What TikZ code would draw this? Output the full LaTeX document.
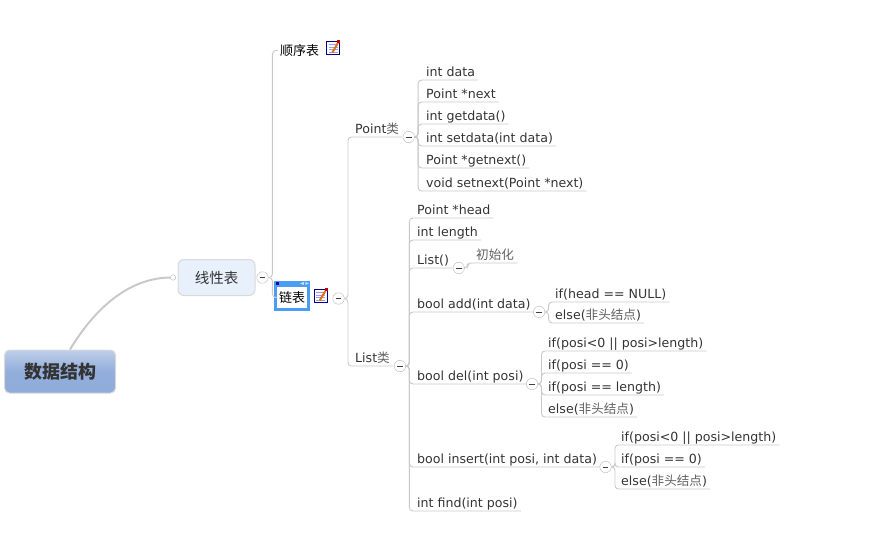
\documentclass[tikz,border=0pt]{standalone}
\usepackage{fontspec}
\setmainfont{DejaVu Sans}
\newfontfamily\cjk{Noto Sans CJK SC}
\usetikzlibrary{positioning,calc,shapes.geometric}
\definecolor{linkgray}{HTML}{C9C9C9}
\definecolor{textgray}{HTML}{333333}
\definecolor{selblue}{HTML}{4A9CF5}
\definecolor{roottop}{HTML}{BECFE8}
\definecolor{rootmid}{HTML}{92AEDB}
\definecolor{rootbot}{HTML}{8FACDA}
\definecolor{mainfill}{HTML}{E8F0FB}
\newcommand{\zh}[1]{{\cjk\color{black!62}#1}}
\begin{document}
\begin{tikzpicture}[
  x=1pt, y=-1pt,
  font=\fontsize{12.6}{14}\selectfont,
  text=textgray,
  link/.style={draw=linkgray, line width=0.9pt, rounded corners=3.5pt},
  leaf/.style={anchor=south west, inner xsep=3pt, inner ysep=0.5pt, text height=10pt, text depth=2.5pt},
  under/.style 2 args={below=#2 of #1.south west, anchor=south west},
  btn/.style={circle, draw=black!28, fill=white, minimum size=11.5pt, inner sep=0pt,
    path picture={\draw[black!75, line width=1pt]
      ($(path picture bounding box.center)+(-2.8pt,0)$) -- ($(path picture bounding box.center)+(2.8pt,0)$);}},
  noteicon/.pic={
    \draw[fill=white, draw=blue!55!black, line width=0.9pt] (-6.5,-6.5) rectangle (6.5,6.5);
    \foreach \yy in {-3.5,-1,1.5,4}
      \draw[blue!40!white, line width=0.7pt] (-4.5,\yy) -- (4.5,\yy);
    \draw[orange!90!black, line width=2pt] (-1,4.5) -- (4.5,-5);
    \fill[red!75!black] (4,-8) rectangle (7,-5);
  },
]
\useasboundingbox (0,0) rectangle (883,551);

% Root and main topic
\node[draw=black!15, line width=1pt, rounded corners=5pt, minimum width=111pt, minimum height=43pt,
  top color=roottop, bottom color=rootbot, middle color=rootmid,
  font=\cjk\fontsize{18}{20}\selectfont\bfseries] (root) at (60,371.5) {数据结构};
\node[draw=black!15, line width=1pt, rounded corners=6pt, minimum width=77pt, minimum height=36pt,
  fill=mainfill, font=\cjk\fontsize{14.5}{16}\selectfont] (main) at (216.5,277.5) {线性表};
\node[circle, draw=black!30, fill=white, minimum size=5.5pt, inner sep=0pt, left=1.5pt of main] (dot) {};
\draw[linkgray, line width=2pt] ([xshift=10pt]root.north) .. controls (100,300) and (135,278) .. (dot.west);
\node[btn, right=1pt of main] (mainbtn) {};

% Second level
\node[anchor=west, inner xsep=2pt, text=black, font=\cjk\fontsize{13}{15}\selectfont] (seq) at (278,50.5) {顺序表};
\pic at ([xshift=12pt,yshift=2.5pt]seq.east) {noteicon};
\node[draw=selblue, line width=2.5pt, fill=white, text=black, minimum width=33pt, minimum height=24pt, inner sep=0pt,
  font=\cjk\fontsize{13}{15}\selectfont] (chain) at (292,297.5) {链表};
\fill[selblue] (chain.north west) rectangle ([yshift=3.5pt]chain.north east);
\fill[blue!70!black] ([xshift=1.5pt,yshift=-0.5pt]chain.north west) rectangle ++(3,-3);
\node[isosceles triangle, fill=white!70!selblue, inner sep=0pt, minimum size=3pt, rotate=180] (hl) at ([xshift=-7pt,yshift=0.8pt]chain.north east) {};
\node[isosceles triangle, fill=white!70!selblue, inner sep=0pt, minimum size=3pt] (hr) at ([xshift=-3.5pt,yshift=0.8pt]chain.north east) {};
\pic at ([xshift=11pt,yshift=1.5pt]chain.east) {noteicon};
\node[btn] (chainbtn) at (338.5,298.5) {};

\foreach \n in {seq.west, chain.west}
  \draw[link] (mainbtn.east) -- ++(4,0) |- (\n);

% Point class
\node[leaf] (point) at (352,137) {Point{\cjk\color{black!62}类}};
\node[btn, right=0.5pt of point.south east] (pointbtn) {};
\node[leaf] (pa) at (423,80) {int data};
\node[leaf, under={pa}{22pt}] (pb) {Point *next};
\node[leaf, under={pb}{22pt}] (pc) {int getdata()};
\node[leaf, under={pc}{22pt}] (pd) {int setdata(int data)};
\node[leaf, under={pd}{22pt}] (pe) {Point *getnext()};
\node[leaf, under={pe}{23pt}] (pf) {void setnext(Point *next)};
\foreach \n in {pa,pb,pc,pd,pe,pf}
  \draw[link] (pointbtn.east) -- ++(3.5,0) |- (\n.south east);

% List class
\node[leaf] (list) at (352,366) {List{\cjk\color{black!62}类}};
\node[btn, right=1pt of list.south east] (listbtn) {};
\node[leaf] (la) at (414,218) {Point *head};
\node[leaf, under={la}{22pt}] (lb) {int length};
\node[leaf, under={lb}{28pt}] (lc) {List()};
\node[leaf, under={lc}{44pt}] (ld) {bool add(int data)};
\node[leaf, under={ld}{72pt}] (le) {bool del(int posi)};
\node[leaf, under={le}{83pt}] (lf) {bool insert(int posi, int data)};
\node[leaf, under={lf}{44pt}] (lg) {int find(int posi)};
\foreach \n in {la,lb,lc,ld,le,lf,lg}
  \draw[link] (listbtn.east) -- ++(3.5,0) |- (\n.south east);

\foreach \n in {point,list}
  \draw[link] (chainbtn.east) -- ++(3.5,0) |- (\n.south east);

% List()
\node[btn, right=0.5pt of lc.south east] (lcbtn) {};
\node[leaf] (init) at (473,263) {\zh{初始化}};
\draw[link] (lcbtn.east) -- ++(3,0) |- (init.south east);

% add
\node[btn, right=-0.5pt of ld.south east] (ldbtn) {};
\node[leaf] (da) at (552,302) {if(head == NULL)};
\node[leaf, under={da}{21pt}] (db) {else(\zh{非头结点})};
\foreach \n in {da,db}
  \draw[link] (ldbtn.east) -- ++(3.5,0) |- (\n.south east);

% del
\node[btn, right=-0.5pt of le.south east] (lebtn) {};
\node[leaf] (ea) at (545,351) {if(posi<0 || posi>length)};
\node[leaf, under={ea}{22pt}] (eb) {if(posi == 0)};
\node[leaf, under={eb}{22pt}] (ec) {if(posi == length)};
\node[leaf, under={ec}{22pt}] (ed) {else(\zh{非头结点})};
\foreach \n in {ea,eb,ec,ed}
  \draw[link] (lebtn.east) -- ++(3.5,0) |- (\n.south east);

% insert
\node[btn, right=-0.5pt of lf.south east] (lfbtn) {};
\node[leaf] (fa) at (618,445) {if(posi<0 || posi>length)};
\node[leaf, under={fa}{22pt}] (fb) {if(posi == 0)};
\node[leaf, under={fb}{22pt}] (fc) {else(\zh{非头结点})};
\foreach \n in {fa,fb,fc}
  \draw[link] (lfbtn.east) -- ++(3.5,0) |- (\n.south east);
\end{tikzpicture}
\end{document}
